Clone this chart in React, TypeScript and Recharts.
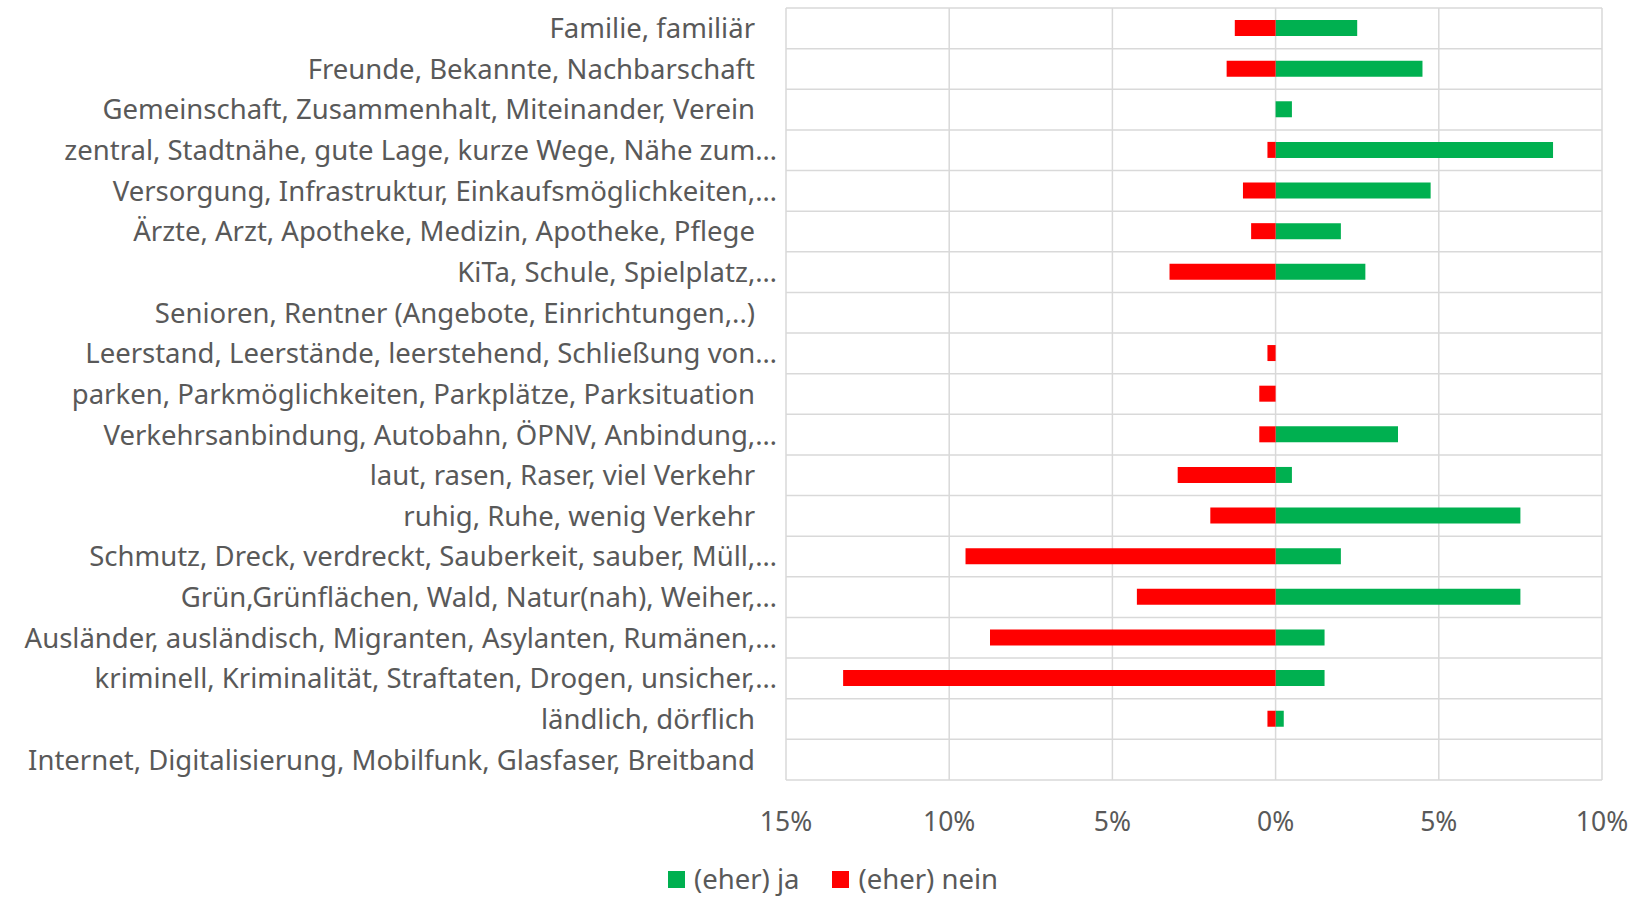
import React from 'react';
import { BarChart, Bar, XAxis, YAxis, CartesianGrid, Legend } from 'recharts';

const categories = [
  'Familie, familiär',
  'Freunde, Bekannte, Nachbarschaft',
  'Gemeinschaft, Zusammenhalt, Miteinander, Verein',
  'zentral, Stadtnähe, gute Lage, kurze Wege, Nähe zum…',
  'Versorgung, Infrastruktur, Einkaufsmöglichkeiten,…',
  'Ärzte, Arzt, Apotheke, Medizin, Apotheke, Pflege',
  'KiTa, Schule, Spielplatz,…',
  'Senioren, Rentner (Angebote, Einrichtungen,..)',
  'Leerstand, Leerstände, leerstehend, Schließung von…',
  'parken, Parkmöglichkeiten, Parkplätze, Parksituation',
  'Verkehrsanbindung, Autobahn, ÖPNV, Anbindung,…',
  'laut, rasen, Raser, viel Verkehr',
  'ruhig, Ruhe, wenig Verkehr',
  'Schmutz, Dreck, verdreckt, Sauberkeit, sauber, Müll,…',
  'Grün,Grünflächen, Wald, Natur(nah), Weiher,…',
  'Ausländer, ausländisch, Migranten, Asylanten, Rumänen,…',
  'kriminell, Kriminalität, Straftaten, Drogen, unsicher,…',
  'ländlich, dörflich',
  'Internet, Digitalisierung, Mobilfunk, Glasfaser, Breitband',
];

// Anteil in %
const jaValues = [2.5, 4.5, 0.5, 8.5, 4.75, 2.0, 2.75, 0, 0, 0, 3.75, 0.5, 7.5, 2.0, 7.5, 1.5, 1.5, 0.25, 0];
const neinValues = [1.25, 1.5, 0, 0.25, 1.0, 0.75, 3.25, 0, 0.25, 0.5, 0.5, 3.0, 2.0, 9.5, 4.25, 8.75, 13.25, 0.25, 0];

const xTicks = [-15, -10, -5, 0, 5, 10];

const data = categories.map((name, i) => ({ name, ja: jaValues[i], nein: -neinValues[i] }));

const FONT = '"Noto Sans", sans-serif';
const TEXT = '#595959';
const GRID = '#d9d9d9';

const CategoryTick = (props: any) => {
  const { x, y, payload } = props;
  const label: string = payload.value;
  const cut = label.endsWith('…');
  return (
    <text x={x - (cut ? 9 : 31)} y={y} dy="0.36em" textAnchor="end" fill={TEXT} fontSize={27.5} fontFamily={FONT}>
      {label}
    </text>
  );
};

const LegendBox = () => (
  <div style={{ display: 'flex', justifyContent: 'center', paddingTop: 25, paddingLeft: 64, fontFamily: FONT, fontSize: 27.5, color: TEXT, lineHeight: '32px' }}>
    <div style={{ display: 'flex', alignItems: 'center', marginRight: 33 }}>
      <span style={{ width: 17, height: 17, background: '#00B050', marginRight: 9, display: 'inline-block' }} />
      (eher) ja
    </div>
    <div style={{ display: 'flex', alignItems: 'center' }}>
      <span style={{ width: 17, height: 17, background: '#FF0000', marginRight: 9, display: 'inline-block' }} />
      (eher) nein
    </div>
  </div>
);

export default function App() {
  return (
    <div style={{ position: 'absolute', left: 0, top: 0, width: 1642, height: 898, background: '#fff' }}>
      <BarChart
        width={1642}
        height={898}
        data={data}
        layout="vertical"
        stackOffset="sign"
        barSize={16}
        margin={{ top: 8, right: 40, bottom: 0, left: 0 }}
      >
        <CartesianGrid
          stroke={GRID}
          strokeWidth={1.5}
          horizontalCoordinatesGenerator={({ offset }: any) =>
            categories.map((_, i) => offset.top + (i * offset.height) / categories.length).concat(offset.top + offset.height)
          }
        />
        <XAxis
          type="number"
          domain={[-15, 10]}
          ticks={xTicks}
          tickFormatter={(v: number) => `${Math.abs(v)}%`}
          axisLine={false}
          tickLine={false}
          tickSize={0}
          tickMargin={32}
          height={58}
          tick={{ fill: TEXT, fontSize: 26.5, fontFamily: FONT }}
          interval={0}
        />
        <YAxis
          type="category"
          dataKey="name"
          width={786}
          axisLine={false}
          tickLine={false}
          tickSize={0}
          tickMargin={0}
          interval={0}
          tick={<CategoryTick />}
        />
        <Legend verticalAlign="bottom" height={60} content={<LegendBox />} />
        <Bar dataKey="ja" name="(eher) ja" stackId="a" fill="#00B050" isAnimationActive={false} />
        <Bar dataKey="nein" name="(eher) nein" stackId="a" fill="#FF0000" isAnimationActive={false} />
      </BarChart>
    </div>
  );
}
